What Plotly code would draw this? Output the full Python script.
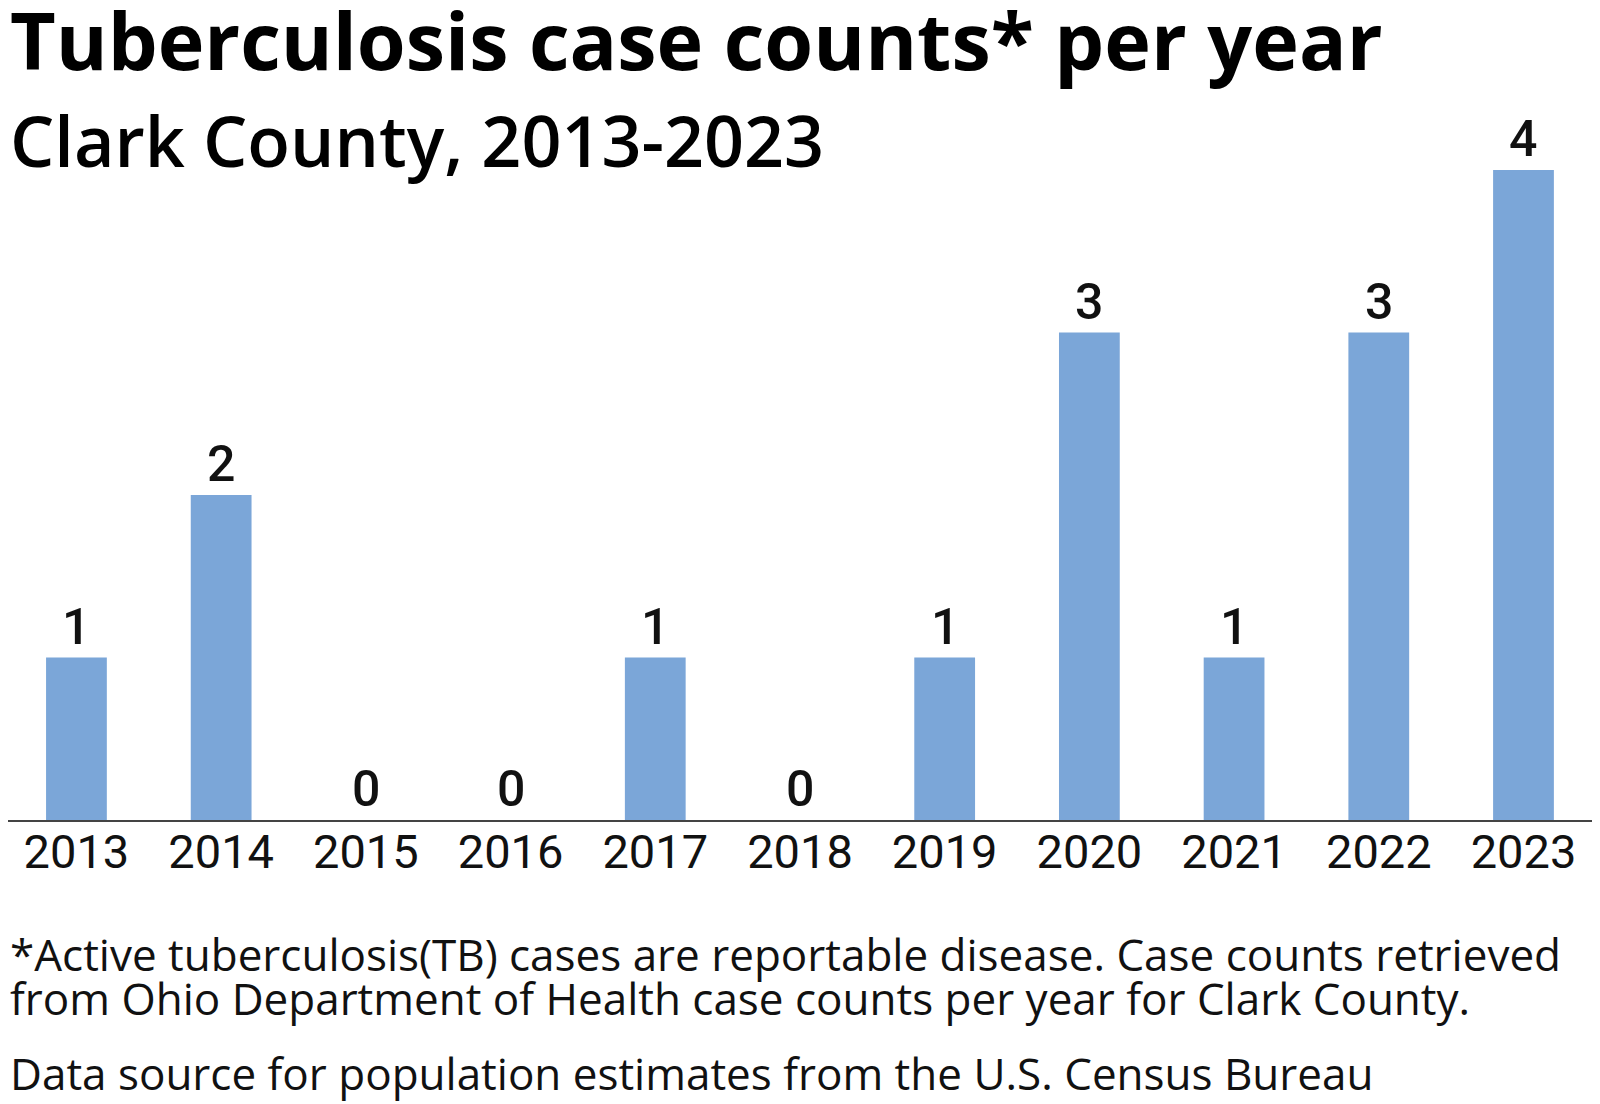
import plotly.graph_objects as go

years = ["2013", "2014", "2015", "2016", "2017", "2018", "2019", "2020", "2021", "2022", "2023"]
cases = [1, 2, 0, 0, 1, 0, 1, 3, 1, 3, 4]

title = "Tuberculosis case counts* per year"
subtitle = "Clark County, 2013-2023"
note1 = "*Active tuberculosis(TB) cases are reportable disease. Case counts retrieved"
note2 = "from Ohio Department of Health case counts per year for Clark County."
note3 = "Data source for population estimates from the U.S. Census Bureau"

W, H = 1600, 1104
mt, mb = 97, 292
ml, mr = 0, 11
ph = H - mt - mb


def py(ypix):
    return (H - mb - ypix) / ph


fig = go.Figure()
fig.add_trace(go.Bar(
    x=years, y=cases,
    marker=dict(color="#7BA6D8", line=dict(width=0)),
    hoverinfo="x+y",
))

# value labels (category index positions on the x axis)
for i, v in enumerate(cases):
    fig.add_annotation(
        x=i, y=v, xref="x", yref="y", text=str(v), showarrow=False,
        yanchor="bottom", yshift=0,
        font=dict(family="Roboto", size=50, color="#111111", weight=500),
    )

fig.add_annotation(x=0, xref="paper", y=py(31), yref="paper", xanchor="left", yanchor="middle",
                   text=title, showarrow=False, xshift=0,
                   font=dict(family="Open Sans", size=79, color="#000000", weight=700))
fig.add_annotation(x=0, xref="paper", y=py(132), yref="paper", xanchor="left", yanchor="middle",
                   text=subtitle, showarrow=False, xshift=0,
                   font=dict(family="Open Sans", size=70, color="#000000", weight=600))
for txt, yy in [(note1, 946), (note2, 990), (note3, 1065)]:
    fig.add_annotation(x=0, xref="paper", y=py(yy), yref="paper", xanchor="left", yanchor="middle",
                       text=txt, showarrow=False, xshift=0,
                       font=dict(family="Open Sans", size=44, color="#111111"))

fig.update_layout(
    width=W, height=H,
    margin=dict(l=ml, r=mr, t=mt, b=mb, autoexpand=False),
    paper_bgcolor="white", plot_bgcolor="white",
    bargap=0.58,
    showlegend=False,
    xaxis=dict(type="category", range=[-0.473, 10.508],
               showline=True, linecolor="#444444", linewidth=2, ticks="",
               ticklabelstandoff=-10,
               tickfont=dict(family="Roboto", size=47, color="#111111"), automargin=False,
               showgrid=False, zeroline=False, fixedrange=True),
    yaxis=dict(range=[0, 4.4], visible=False, showgrid=False, zeroline=False, fixedrange=True,
               automargin=False),
)

fig.write_html("out.html")
